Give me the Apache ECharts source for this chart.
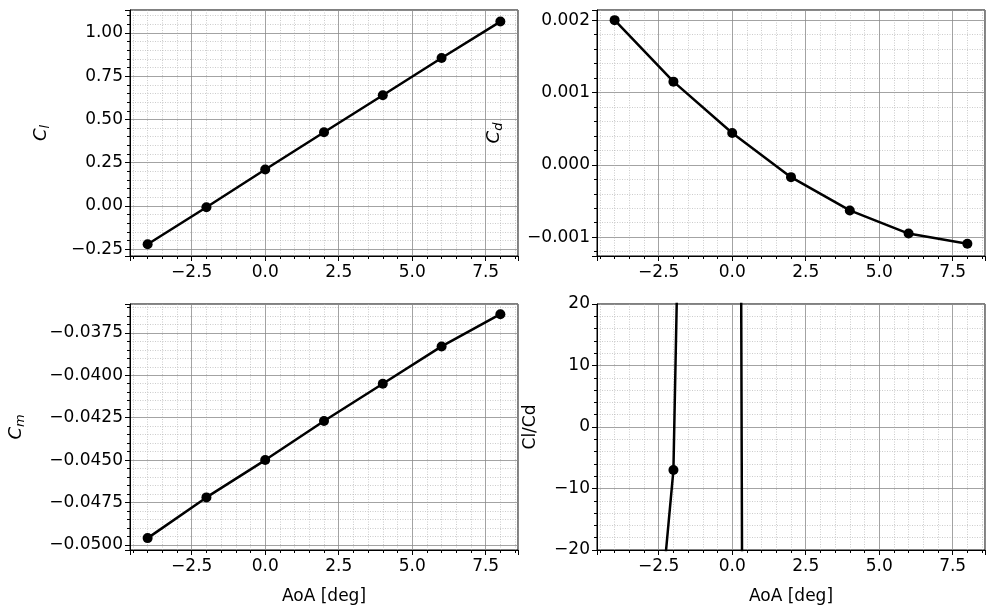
<!DOCTYPE html>
<html>
<head>
<meta charset="utf-8">
<script src="https://cdn.jsdelivr.net/npm/echarts@6/dist/echarts.min.js"></script>
<style>html,body{margin:0;padding:0;background:#fff}#chart{width:993px;height:612px}</style>
</head>
<body>
<div id="chart"></div>
<script>
// 攻角
var aoa = [-4, -2, 0, 2, 4, 6, 8];
var cl = [-0.222, -0.008, 0.210, 0.426, 0.640, 0.855, 1.066];
var cd = [0.00200, 0.00115, 0.00044, -0.00017, -0.00063, -0.00095, -0.00109];
var cm = [-0.0496, -0.0472, -0.0450, -0.0427, -0.0405, -0.0383, -0.0364];
var clcd = [-111, -7, 477, -2506, -1016, -900, -978];

var FONT = 'DejaVu Sans';
function fmt(d) {
    return function (v) { return (v < 0 ? '\u2212' : '') + Math.abs(v).toFixed(d); };
}
function pairs(ys) {
    var out = [];
    for (var i = 0; i < aoa.length; i++) out.push([aoa[i], ys[i]]);
    return out;
}
function xAxis(idx, withName) {
    return {
        type: 'value', gridIndex: idx, min: -4.6, max: 8.6,
        minInterval: 2.5, maxInterval: 2.5,
        name: withName ? 'AoA [deg]' : '', nameLocation: 'middle', nameGap: 38,
        nameTextStyle: {fontFamily: FONT, fontSize: 17, color: '#000'},
        axisLine: {show: true, onZero: false, lineStyle: {color: '#000'}},
        axisTick: {show: true, inside: false, length: 5, lineStyle: {color: '#000'}},
        minorTick: {show: true, splitNumber: 5, length: 3, lineStyle: {color: '#000'}},
        axisLabel: {fontFamily: FONT, fontSize: 17, color: '#000', margin: 8,
            showMinLabel: false, showMaxLabel: false, formatter: fmt(1)},
        splitLine: {show: true, lineStyle: {color: '#8c8c8c', width: 0.8}},
        minorSplitLine: {show: true, lineStyle: {color: '#aaaaaa', width: 0.6, type: [1, 1.5]}}
    };
}
function yAxis(idx, min, max, step, dec, name, gap, showEnds) {
    return {
        type: 'value', gridIndex: idx, min: min, max: max,
        minInterval: step, maxInterval: step,
        name: name, nameLocation: 'middle', nameGap: gap, nameRotate: 90,
        nameTextStyle: {fontFamily: FONT, fontSize: 17, color: '#000',
            rich: {i: {fontFamily: FONT, fontStyle: 'italic', fontSize: 18},
                   s: {fontFamily: FONT, fontStyle: 'italic', fontSize: 13, verticalAlign: 'bottom', padding: [8, 0, 0, 0]}}},
        axisLine: {show: true, onZero: false, lineStyle: {color: '#000'}},
        axisTick: {show: true, inside: false, length: 5, lineStyle: {color: '#000'}},
        minorTick: {show: true, splitNumber: 5, length: 3, lineStyle: {color: '#000'}},
        axisLabel: {fontFamily: FONT, fontSize: 17, color: '#000', margin: 7,
            showMinLabel: showEnds, showMaxLabel: showEnds, formatter: fmt(dec)},
        splitLine: {show: true, lineStyle: {color: '#8c8c8c', width: 0.8}},
        minorSplitLine: {show: true, lineStyle: {color: '#aaaaaa', width: 0.6, type: [1, 1.5]}}
    };
}
function line(idx, ys) {
    return {
        type: 'line', xAxisIndex: idx, yAxisIndex: idx, data: pairs(ys),
        symbol: 'circle', symbolSize: 10, clip: true,
        lineStyle: {color: '#000', width: 2.5}, itemStyle: {color: '#000'}
    };
}

var myChart = echarts.init(document.getElementById('chart'));
var option = {
    animation: false,
    grid: [
        {left: 130, top: 10, width: 388, height: 246, show: true, borderColor: '#000', borderWidth: 1},
        {left: 597, top: 10, width: 388, height: 246, show: true, borderColor: '#000', borderWidth: 1},
        {left: 130, top: 304, width: 388, height: 246, show: true, borderColor: '#000', borderWidth: 1},
        {left: 597, top: 304, width: 388, height: 246, show: true, borderColor: '#000', borderWidth: 1}
    ],
    xAxis: [xAxis(0, false), xAxis(1, false), xAxis(2, true), xAxis(3, true)],
    yAxis: [
        yAxis(0, -0.29, 1.133, 0.25, 2, '{i|C}{s|l}', 78, false),
        yAxis(1, -0.00126, 0.00214, 0.001, 3, '{i|C}{s|d}', 92, false),
        yAxis(2, -0.0503, -0.0358, 0.0025, 4, '{i|C}{s|m}', 103, false),
        yAxis(3, -20, 20, 10, 0, 'Cl/Cd', 58, true)
    ],
    series: [line(0, cl), line(1, cd), line(2, cm), line(3, clcd)]
};
myChart.setOption(option);
</script>
</body>
</html>
